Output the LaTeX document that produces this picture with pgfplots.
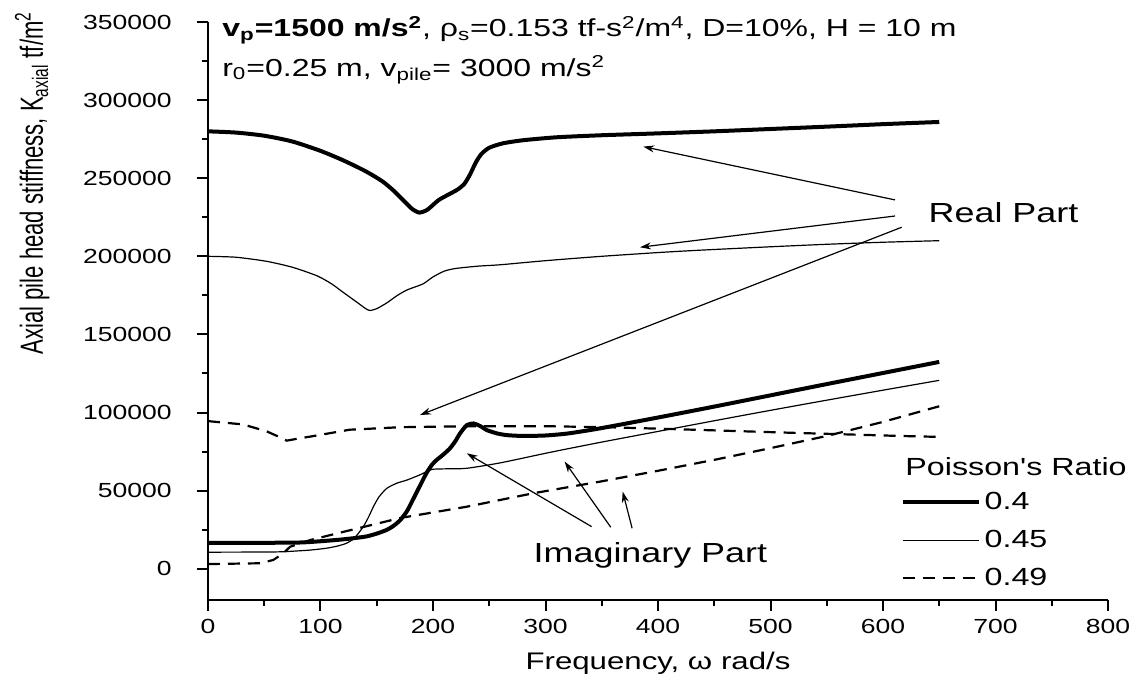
\documentclass[border=0pt]{standalone}
\usepackage{pgfplots}
\pgfplotsset{compat=1.18}
\usepackage{fontspec}
\setmainfont{Liberation Sans}[FakeStretch=1.3]
\newfontfamily\plainfont{Liberation Sans}[FakeStretch=1.3]
\newfontfamily\ylfont{Liberation Sans}[FakeStretch=0.69]
\usetikzlibrary{arrows.meta}

\pgfplotstableread{
x y
0 280000
25 279200
50 277200
75 273500
100 267500
120 261500
140 254500
155 248000
165 242000
175 234800
182 230000
188 228000
195 229800
205 236000
215 240000
222 242800
228 246500
233 252500
238 260000
243 265500
250 269500
262 272300
280 274300
310 276200
350 277500
400 278700
450 280000
500 281500
550 283000
600 284600
650 286000
}\realA

\pgfplotstableread{
x y
0 200000
25 199400
52 196800
75 193000
97 187500
110 182300
120 177000
132 170800
140 166600
144 165300
150 166500
159 170200
168 174800
177 178500
191 182300
200 186800
210 190500
220 192200
240 193700
260 194600
300 197200
348 199900
400 202400
437 203900
500 206100
550 207700
600 209000
650 210000
}\realB

\pgfplotstableread{
x y
0 94500
31 92400
52 88000
62 84800
70 82000
80 83300
91 84600
126 89000
171 90600
230 91200
304 91200
360 90500
422 89200
511 87200
615 85000
650 84400
}\realC

\pgfplotstableread{
x y
0 16500
50 16600
82 16800
100 17600
117 18600
130 19600
141 20700
150 22500
159 24900
165 27500
171 31200
177 37000
182 44000
188 52500
194 61000
199 66500
203 69500
209 73000
215 77000
220 81800
224 86600
230 91900
236 93000
242 91300
248 88700
257 86600
266 85500
280 85000
300 85300
320 86600
348 89800
400 96800
450 103800
500 111000
550 118200
600 125300
650 132400
}\imagA

\pgfplotstableread{
x y
0 10600
50 10700
67 10900
90 11900
105 13100
115 14500
123 16300
130 19500
138 26900
143 33500
147 39700
152 46000
159 51500
168 54800
177 56800
188 60000
195 62400
200 63700
215 64000
230 64300
260 67800
304 74500
348 80800
400 87900
452 95000
500 101400
550 107900
600 114300
650 120600
}\imagB

\pgfplotstableread{
x y
0 3000
46 3500
58 5600
67 9900
73 14100
91 18400
126 24600
171 32500
230 39700
289 48300
348 55700
400 62700
452 70000
500 77200
550 85000
600 94000
650 104000
}\imagC

\begin{document}
\begin{tikzpicture}
\begin{axis}[
  width=450bp, height=289bp, scale only axis,
  xmin=0, xmax=800, ymin=-20000, ymax=350000,
  clip=false,
  axis lines=left,
  axis line style={-, line width=1.1bp},
  x axis line style={-}, y axis line style={-},
  tick align=outside,
  xtick={0,100,...,800}, ytick={0,50000,...,350000},
  minor x tick num=1, minor y tick num=1,
  major tick length=5.5bp, minor tick length=3bp,
  every tick/.style={black, line width=1bp},
  scaled y ticks=false, scaled x ticks=false,
  /pgf/number format/fixed, /pgf/number format/precision=0,
  /pgf/number format/1000 sep={}, /pgf/number format/assume math mode=true,
  tick label style={font=\fontsize{10.2bp}{12bp}\selectfont, inner sep=0pt},
  xticklabel style={anchor=base, yshift=-11.5bp},
  yticklabel style={anchor=east, xshift=-12.5bp},
  xlabel={Frequency, ω rad/s},
  xlabel style={font=\fontsize{12bp}{14bp}\selectfont, at={([yshift=-35bp]axis description cs:0.5,0)}, anchor=base, inner sep=0pt},
  ylabel={\ylfont Axial pile head stiffness, K\textsubscript{axial} tf/m\textsuperscript{2}},
  ylabel style={font=\fontsize{16bp}{18bp}\selectfont, at={([xshift=-82.5bp]axis description cs:0,0.7213)}, anchor=base, inner sep=0pt},
  legend cell align=left,
  legend style={draw=none, fill=none, at={(axis cs:610,54300)}, anchor=north west, font=\fontsize{12.4bp}{14bp}\selectfont, row sep=4.75bp},
  legend image code/.code={\draw[#1] (0bp,0bp) -- (38bp,0bp);},
]
\addplot[black, line width=2bp, smooth, tension=0.4] table {\realA};
\addlegendentry{0.4}
\addplot[black, line width=0.6bp, smooth, tension=0.4] table {\realB};
\addlegendentry{0.45}
\addplot[black, line width=1.1bp, dash pattern=on 6bp off 4bp] table {\realC};
\addlegendentry{0.49}
\addplot[black, line width=2bp, smooth, tension=0.4, forget plot] table {\imagA};
\addplot[black, line width=0.6bp, smooth, tension=0.4, forget plot] table {\imagB};
\addplot[black, line width=1.1bp, dash pattern=on 6bp off 4bp, forget plot] table {\imagC};

\node[anchor=base west, inner sep=0pt, font=\fontsize{12.3bp}{14bp}\selectfont] at (axis cs:12.4,340400)
  {\textbf{v\textsubscript{p}=1500 m/s\textsuperscript{2}}, ρ\textsubscript{s}=0.153 tf-s\textsuperscript{2}/m\textsuperscript{4}, D=10\%, H = 10 m};
\node[anchor=base west, inner sep=0pt, font=\fontsize{12.3bp}{14bp}\selectfont] at (axis cs:12.4,315400)
  {r\textsubscript{0}=0.25 m, v\textsubscript{pile}= 3000 m/s\textsuperscript{2}};
\node[anchor=base west, inner sep=0pt, font=\fontsize{13.8bp}{16bp}\selectfont] at (axis cs:640.3,221500) {Real Part};
\node[anchor=base west, inner sep=0pt, font=\fontsize{13.8bp}{16bp}\selectfont] at (axis cs:289.2,3900) {Imaginary Part};
\node[anchor=base west, inner sep=0pt, font=\fontsize{12.4bp}{14bp}\selectfont] at (axis cs:619.6,60000) {\plainfont Poisson's Ratio};

\draw[line width=0.6bp, -{Stealth[length=5.5bp,width=3.5bp]}] (axis cs:610.7,236100) -- (axis cs:386.9,270200);
\draw[line width=0.6bp, -{Stealth[length=5.5bp,width=3.5bp]}] (axis cs:610.7,225800) -- (axis cs:384,205800);
\draw[line width=0.6bp, -{Stealth[length=5.5bp,width=3.5bp]}] (axis cs:616.6,218600) -- (axis cs:188.4,98400);
\draw[line width=0.6bp, -{Stealth[length=5.5bp,width=3.5bp]}] (axis cs:341,26950) -- (axis cs:230,73900);
\draw[line width=0.6bp, -{Stealth[length=5.5bp,width=3.5bp]}] (axis cs:358,26600) -- (axis cs:317,68600);
\draw[line width=0.6bp, -{Stealth[length=5.5bp,width=3.5bp]}] (axis cs:377,25900) -- (axis cs:368.6,49400);
\end{axis}
\pgfresetboundingbox
\path[use as bounding box] ([xshift=-104bp,yshift=-44.5bp]current axis.south west) rectangle ([xshift=19bp,yshift=11bp]current axis.north east);
\end{tikzpicture}
\end{document}
